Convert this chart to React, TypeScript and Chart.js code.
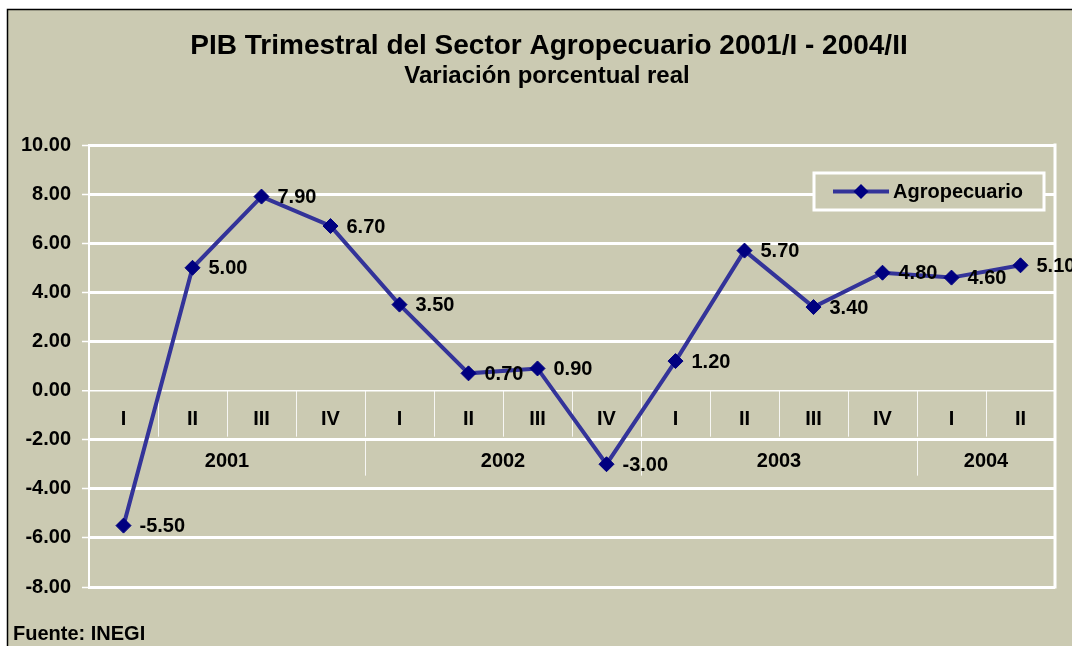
import React, { useEffect, useRef } from "react";
import { Chart, registerables } from "chart.js";

Chart.register(...registerables);

const quarters = ["I", "II", "III", "IV", "I", "II", "III", "IV", "I", "II", "III", "IV", "I", "II"];
const years = ["2001", "2002", "2003", "2004"];
const quartersPerYear = [4, 4, 4, 2];
const values = [-5.5, 5.0, 7.9, 6.7, 3.5, 0.7, 0.9, -3.0, 1.2, 5.7, 3.4, 4.8, 4.6, 5.1];
const yMin = -8;
const yMax = 10;
const yStep = 2;
const seriesName = "Agropecuario";
const titleText = "PIB Trimestral del Sector Agropecuario 2001/I - 2004/II";
const subtitleText = "Variación porcentual real";
const sourceText = "Fuente: INEGI";

const BG = "#CBCAB2";
const LINE = "#333399";
const MARK = "#000080";
const FONT = "Arial, 'Liberation Sans', sans-serif";

const categoryLabels: string[] = [];
{
  let k = 0;
  years.forEach((y, i) => {
    for (let q = 0; q < quartersPerYear[i]; q++) {
      categoryLabels.push(y + "/" + quarters[k]);
      k++;
    }
  });
}

function diamond(ctx: CanvasRenderingContext2D, x: number, y: number, r: number) {
  ctx.beginPath();
  ctx.moveTo(x, y - r);
  ctx.lineTo(x + r, y);
  ctx.lineTo(x, y + r);
  ctx.lineTo(x - r, y);
  ctx.closePath();
  ctx.fill();
}

const decorPlugin = {
  id: "decor",
  beforeDraw(chart: any) {
    const ctx = chart.ctx as CanvasRenderingContext2D;
    const { width, height } = chart;
    ctx.save();
    ctx.fillStyle = "#ffffff";
    ctx.fillRect(0, 0, width, height);
    ctx.fillStyle = BG;
    ctx.fillRect(8, 10, width - 8, height - 10);
    ctx.strokeStyle = "#000000";
    ctx.lineWidth = 1.5;
    ctx.beginPath();
    ctx.moveTo(7.5, height + 2);
    ctx.lineTo(7.5, 9.5);
    ctx.lineTo(width + 2, 9.5);
    ctx.stroke();

    // titles
    ctx.fillStyle = "#000000";
    ctx.textAlign = "center";
    ctx.textBaseline = "middle";
    ctx.font = "bold 28px " + FONT;
    ctx.fillText(titleText, 549, 46);
    ctx.font = "bold 24px " + FONT;
    ctx.fillText(subtitleText, 547, 76);
    // source
    ctx.textAlign = "left";
    ctx.font = "bold 20px " + FONT;
    ctx.fillText(sourceText, 13, 634);
    ctx.restore();
  },
  beforeDatasetsDraw(chart: any) {
    const ctx = chart.ctx as CanvasRenderingContext2D;
    const xs = chart.scales.x;
    const ys = chart.scales.y;
    const area = chart.chartArea;
    const y0 = ys.getPixelForValue(0);
    const yq = ys.getPixelForValue(-2);
    ctx.save();
    // right plot border
    ctx.strokeStyle = "#ffffff";
    ctx.lineWidth = 3;
    ctx.beginPath();
    ctx.moveTo(area.right, area.top - 1.5);
    ctx.lineTo(area.right, area.bottom + 1.5);
    ctx.stroke();

    const half = (xs.getPixelForValue(1) - xs.getPixelForValue(0)) / 2;
    // quarter separators
    ctx.strokeStyle = "rgba(255,255,255,0.85)";
    ctx.lineWidth = 1;
    for (let i = 1; i < categoryLabels.length; i++) {
      const x = Math.round(xs.getPixelForValue(i) - half) + 0.5;
      ctx.beginPath();
      ctx.moveTo(x, y0);
      ctx.lineTo(x, yq - 3);
      ctx.stroke();
    }
    // year separators
    let acc = 0;
    for (let i = 0; i < quartersPerYear.length - 1; i++) {
      acc += quartersPerYear[i];
      const x = Math.round(xs.getPixelForValue(acc) - half) + 0.5;
      ctx.beginPath();
      ctx.moveTo(x, yq);
      ctx.lineTo(x, yq + 36);
      ctx.stroke();
    }
    // quarter labels
    ctx.fillStyle = "#000000";
    ctx.font = "bold 20px " + FONT;
    ctx.textAlign = "center";
    ctx.textBaseline = "middle";
    quarters.forEach((q, i) => {
      ctx.fillText(q, xs.getPixelForValue(i), (y0 + yq) / 2 + 4);
    });
    // year labels
    let start = 0;
    years.forEach((y, i) => {
      const end = start + quartersPerYear[i] - 1;
      const cx = (xs.getPixelForValue(start) + xs.getPixelForValue(end)) / 2;
      ctx.fillText(y, cx, yq + 22);
      start += quartersPerYear[i];
    });
    ctx.restore();
  },
  afterDatasetsDraw(chart: any) {
    const ctx = chart.ctx as CanvasRenderingContext2D;
    const meta = chart.getDatasetMeta(0);
    ctx.save();
    ctx.fillStyle = "#000000";
    ctx.font = "bold 20px " + FONT;
    ctx.textAlign = "left";
    ctx.textBaseline = "middle";
    meta.data.forEach((pt: any, i: number) => {
      ctx.fillText(values[i].toFixed(2), pt.x + 16, pt.y + 1);
    });

    // legend
    const lx = 814, ly = 173, lw = 230, lh = 37;
    ctx.fillStyle = BG;
    ctx.fillRect(lx, ly, lw, lh);
    ctx.strokeStyle = "#ffffff";
    ctx.lineWidth = 3;
    ctx.strokeRect(lx, ly, lw, lh);
    const cy = ly + lh / 2;
    ctx.strokeStyle = LINE;
    ctx.lineWidth = 4;
    ctx.beginPath();
    ctx.moveTo(833, cy);
    ctx.lineTo(889, cy);
    ctx.stroke();
    ctx.fillStyle = MARK;
    diamond(ctx, 861, cy, 7.5);
    ctx.fillStyle = "#000000";
    ctx.fillText(seriesName, 893, cy + 1);
    ctx.restore();
  },
};

export default function App() {
  const ref = useRef<HTMLCanvasElement | null>(null);
  useEffect(() => {
    if (!ref.current) return;
    const chart = new Chart(ref.current, {
      type: "line",
      data: {
        labels: categoryLabels,
        datasets: [
          {
            label: seriesName,
            data: values,
            borderColor: LINE,
            borderWidth: 4,
            tension: 0,
            pointStyle: "rectRot",
            pointRadius: 7.5,
            pointHoverRadius: 7.5,
            pointBackgroundColor: MARK,
            pointBorderColor: MARK,
            pointBorderWidth: 1,
          },
        ],
      },
      options: {
        responsive: false,
        animation: false,
        events: [],
        layout: { padding: { top: 145, right: 17, bottom: 59, left: 0 } },
        plugins: {
          legend: { display: false },
          title: { display: false },
          tooltip: { enabled: false },
        },
        scales: {
          x: {
            display: false,
            offset: true,
          },
          y: {
            min: yMin,
            max: yMax,
            afterFit: (s: any) => {
              s.width = 89;
            },
            ticks: {
              stepSize: yStep,
              padding: 11,
              color: "#000000",
              font: { family: FONT, size: 20, weight: "bold" },
              callback: (v: any) => Number(v).toFixed(2),
            },
            grid: {
              color: "#ffffff",
              lineWidth: (c: any) => (c.tick && c.tick.value === 0 ? 1.5 : 3),
              drawTicks: true,
              tickLength: 7,
              tickColor: "#ffffff",
              tickWidth: 1.5,
            },
            border: { display: true, color: "#ffffff", width: 2 },
          },
        },
      },
      plugins: [decorPlugin],
    });
    return () => chart.destroy();
  }, []);
  return (
    <div style={{ position: "absolute", left: 0, top: 0, width: 1072, height: 646 }}>
      <canvas ref={ref} width={1072} height={646} style={{ display: "block" }} />
    </div>
  );
}
